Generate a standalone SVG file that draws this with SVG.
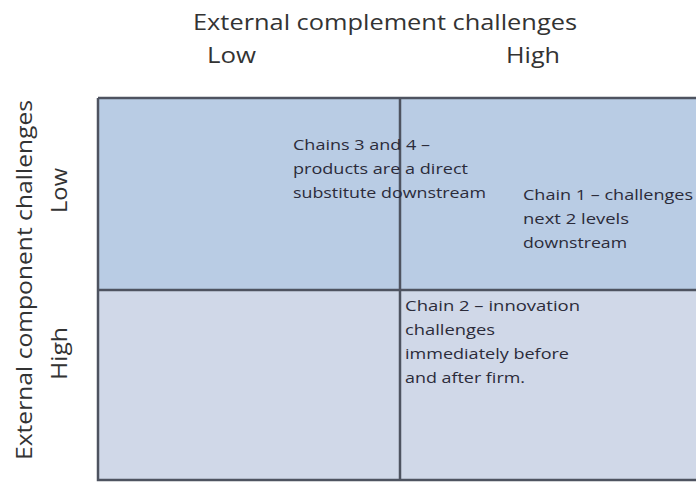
<svg xmlns="http://www.w3.org/2000/svg" width="696" height="483" viewBox="0 0 696 483">
<style>
.ax{font-family:"Open Sans","Liberation Sans",sans-serif;fill:#333;font-size:22.5px}
.t{font-family:"Open Sans","Liberation Sans",sans-serif;fill:#2b2b3a;font-size:14.5px}
.ln{stroke:#4e5360;stroke-width:2.5;fill:none}
</style>
<rect width="696" height="483" fill="#ffffff"/>
<g id="quadrants">
<rect id="q-top" x="98" y="98" width="600" height="192" fill="#b9cce4"/>
<rect id="q-bottom" x="98" y="290" width="600" height="190" fill="#d0d8e8"/>
</g>
<g id="grid-lines">
<path class="ln" d="M98,98 H700 M98,98 V480 H700 M98,290 H700 M400,98 V480"/>
</g>
<g id="axis-x">
<text class="ax" x="193" y="30" textLength="384" lengthAdjust="spacingAndGlyphs">External complement challenges</text>
<text class="ax" x="207" y="63" textLength="49" lengthAdjust="spacingAndGlyphs">Low</text>
<text class="ax" x="506" y="63" textLength="54" lengthAdjust="spacingAndGlyphs">High</text>
</g>
<g id="axis-y">
<text class="ax" transform="translate(32,460) rotate(-90)" x="0" y="0" textLength="360" lengthAdjust="spacingAndGlyphs">External component challenges</text>
<text class="ax" transform="translate(67,213) rotate(-90)" x="0" y="0" textLength="45" lengthAdjust="spacingAndGlyphs">Low</text>
<text class="ax" transform="translate(67,380) rotate(-90)" x="0" y="0" textLength="53" lengthAdjust="spacingAndGlyphs">High</text>
</g>
<g id="chains-3-4">
<text class="t" x="293" y="150" textLength="137" lengthAdjust="spacingAndGlyphs">Chains 3 and 4 –</text>
<text class="t" x="293" y="174" textLength="175" lengthAdjust="spacingAndGlyphs">products are a direct</text>
<text class="t" x="293" y="198" textLength="193" lengthAdjust="spacingAndGlyphs">substitute downstream</text>
</g>
<g id="chain-1">
<text class="t" x="523" y="200" textLength="170" lengthAdjust="spacingAndGlyphs">Chain 1 – challenges</text>
<text class="t" x="523" y="224" textLength="106" lengthAdjust="spacingAndGlyphs">next 2 levels</text>
<text class="t" x="523" y="248" textLength="104" lengthAdjust="spacingAndGlyphs">downstream</text>
</g>
<g id="chain-2">
<text class="t" x="405" y="311" textLength="175" lengthAdjust="spacingAndGlyphs">Chain 2 – innovation</text>
<text class="t" x="405" y="335" textLength="90" lengthAdjust="spacingAndGlyphs">challenges</text>
<text class="t" x="405" y="359" textLength="164" lengthAdjust="spacingAndGlyphs">immediately before</text>
<text class="t" x="405" y="383" textLength="120" lengthAdjust="spacingAndGlyphs">and after firm.</text>
</g>
</svg>
